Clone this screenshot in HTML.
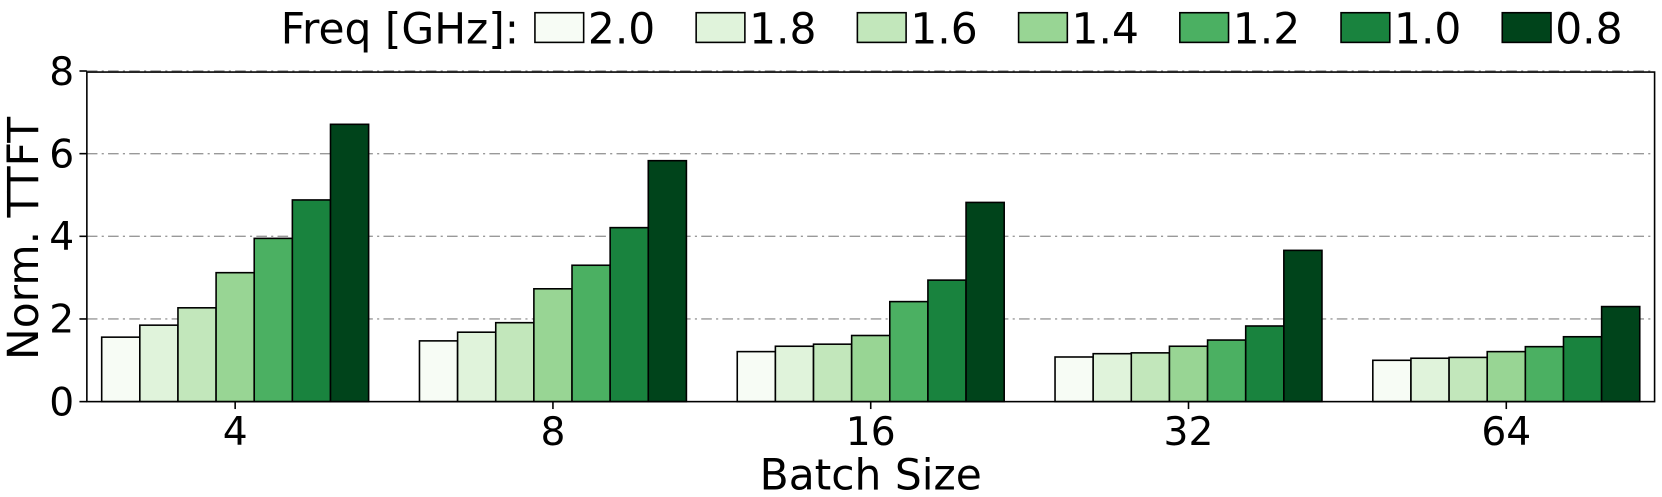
<!DOCTYPE html>
<html><head><meta charset="utf-8"><style>
body{margin:0;background:#fff;}
svg{display:block;font-family:"DejaVu Sans","Liberation Sans",sans-serif;}
</style></head><body>
<svg id="chart" width="1662" height="497" viewBox="0 0 1569 469" preserveAspectRatio="none"></svg>
<script>
const categories=["4","8","16","32","64"];
const freqs=["2.0","1.8","1.6","1.4","1.2","1.0","0.8"];
const colors=["#f7fcf5","#e0f3db","#c2e7bb","#98d594","#4bb062","#19833e","#00441b"];
const s20=[1.56,1.47,1.21,1.08,1.0];
const s18=[1.85,1.68,1.34,1.16,1.05];
const s16=[2.27,1.91,1.39,1.18,1.07];
const s14=[3.12,2.73,1.6,1.34,1.21];
const s12=[3.95,3.3,2.42,1.49,1.33];
const s10=[4.88,4.21,2.94,1.83,1.57];
const s08=[6.71,5.83,4.82,3.66,2.3];
const series=[s20,s18,s16,s14,s12,s10,s08];
const yTicks=[0,2,4,6,8];

const NS="http://www.w3.org/2000/svg";
const svg=document.getElementById('chart');
const L=82,R=1562,T=68,B=379;
const y=v=>B-(v/8)*(B-T+1);
const gc=i=>222+i*300;
const bw=36;
function mk(tag,attrs,parent){const e=document.createElementNS(NS,tag);for(const k in attrs)e.setAttribute(k,attrs[k]);(parent||svg).appendChild(e);return e;}

yTicks.forEach(t=>{
  if(t>0){const g=mk('line',{x1:L,x2:R,y1:y(t),y2:y(t),stroke:'#999','stroke-width':1.3,'stroke-dasharray':'10,4,2,4'});
  
  }
  const tk=mk('line',{x1:L-7,x2:L,y1:y(t),y2:y(t),stroke:'#000','stroke-width':1.5});
  
  
  const tx=mk('text',{x:L-12,y:y(t)+13,'text-anchor':'end','font-size':37});
  tx.textContent=t;
  
  
});

categories.forEach((c,i)=>{
  series.forEach((s,j)=>{
    const x0=gc(i)-3.5*bw+j*bw;
    const r=mk('rect',{x:x0,y:y(s[i]),width:bw,height:B-y(s[i]),fill:colors[j],stroke:'#000','stroke-width':1.5});
    
    
  });
  const tk=mk('line',{x1:gc(i),x2:gc(i),y1:B,y2:B+7,stroke:'#000','stroke-width':1.5});
  
  
  const tx=mk('text',{x:gc(i),y:420,'text-anchor':'middle','font-size':37});
  tx.textContent=c;
  
  
});

const frame=mk('rect',{x:L,y:T,width:R-L,height:B-T,fill:'none',stroke:'#000','stroke-width':1.5});



const xt=mk('text',{x:822,y:462,'text-anchor':'middle','font-size':40});
xt.textContent='Batch Size';


const yt=mk('text',{x:0,y:0,'text-anchor':'middle','font-size':40,transform:'translate(36,225) rotate(-90)'});
yt.textContent='Norm. TTFT';



const lt=mk('text',{x:265,y:41,'font-size':40});
lt.textContent='Freq [GHz]:';


freqs.forEach((f,j)=>{
  const x0=505+j*152.2;
  const p=mk('rect',{x:x0,y:12,width:46,height:28,fill:colors[j],stroke:'#000','stroke-width':1.5});
  
  
  const t=mk('text',{x:x0+50,y:41,'font-size':40});
  t.textContent=f;
  
  
});
</script>
</body></html>
